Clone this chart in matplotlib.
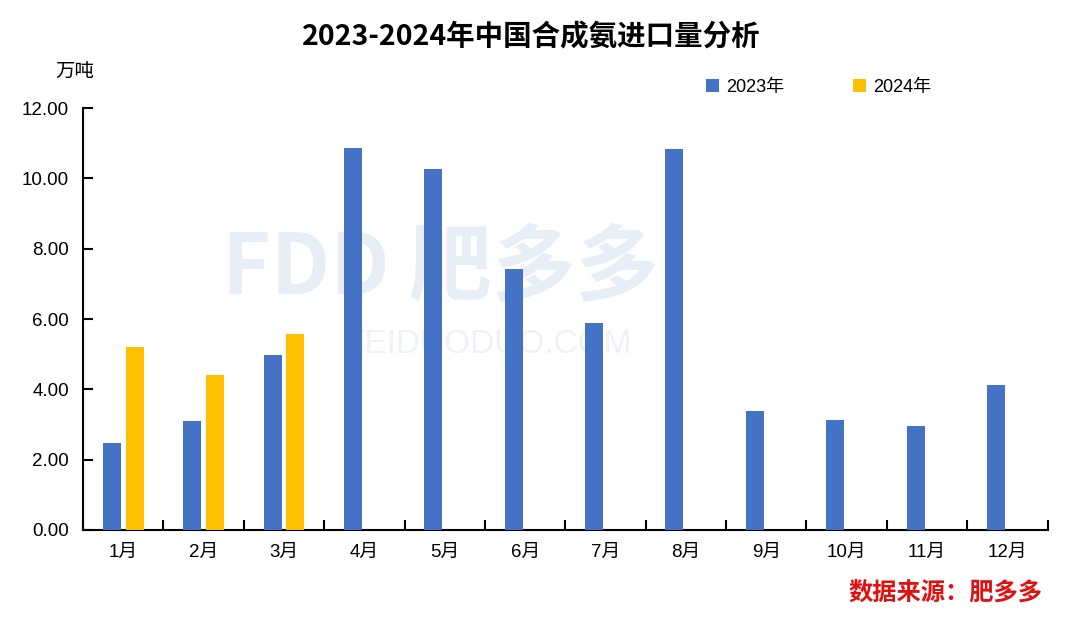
import numpy as np
import matplotlib
matplotlib.use("Agg")
import matplotlib.pyplot as plt

plt.rcParams['font.family'] = ['Liberation Sans', 'Noto Sans CJK SC', 'DejaVu Sans']

months = ['1月', '2月', '3月', '4月', '5月', '6月', '7月', '8月', '9月', '10月', '11月', '12月']
imports_2023 = [2.47, 3.10, 4.98, 10.86, 10.26, 7.42, 5.89, 10.83, 3.38, 3.13, 2.96, 4.12]
imports_2024 = [5.20, 4.41, 5.57]

fig = plt.figure(figsize=(10.8, 6.23), dpi=100)
ax = fig.add_axes([0.0769, 0.1493, 0.8931, 0.6773])

x = np.arange(len(months))
w = 0.224
ax.bar(x - 0.143, imports_2023, width=w, color='#4472C4', label='2023年', zorder=3)
ax.bar(np.arange(len(imports_2024)) + 0.143, imports_2024, width=w, color='#FFC000', label='2024年', zorder=3)

# faint watermark
ax.text(0.37, 0.62, 'FDD 肥多多', transform=ax.transAxes, fontsize=60, fontweight='bold',
        color='#e8eef6', ha='center', va='center', zorder=1, family=['Noto Sans CJK SC'])
ax.text(0.42, 0.44, 'FEIDUODUO.COM', transform=ax.transAxes, fontsize=24,
        color='#eef2f8', ha='center', va='center', zorder=1)

ax.set_xlim(-0.5, len(months) - 0.5)
ax.set_ylim(0, 12)
ax.set_yticks(np.arange(0, 12.01, 2))
ax.set_yticklabels([f'{v:.2f}' for v in np.arange(0, 12.01, 2)], fontsize=13.5)
ax.set_xticks(x)
ax.set_xticklabels(months, fontsize=13.5, family=['Liberation Sans', 'Noto Sans CJK SC'])
ax.set_xticks(np.arange(-0.5, len(months), 1), minor=True)
ax.tick_params(axis='x', which='major', length=0, pad=10)
ax.tick_params(axis='x', which='minor', direction='in', length=7, width=1.5)
ax.tick_params(axis='y', direction='in', length=7, width=1.5, pad=10)

for s in ['top', 'right']:
    ax.spines[s].set_visible(False)
for s in ['left', 'bottom']:
    ax.spines[s].set_linewidth(1.5)

fig.text(0.492, 0.94, '2023-2024年中国合成氨进口量分析', ha='center', va='center',
         fontsize=20.5, fontweight='bold', family=['Noto Sans CJK SC'])
fig.text(0.069, 0.885, '万吨', ha='center', va='center', fontsize=14, family=['Noto Sans CJK SC'])
fig.legend(loc='center', bbox_to_anchor=(0.758, 0.86), ncol=2, frameon=False,
           handlelength=0.7, handleheight=0.7, columnspacing=3.8,
           handletextpad=0.4, prop={'family': ['Liberation Sans', 'Noto Sans CJK SC'], 'size': 13})
fig.text(0.875, 0.047, '数据来源：肥多多', ha='center', va='center', fontsize=17.5,
         fontweight='bold', color='#e01010', family=['Noto Sans CJK SC'])

fig.savefig('out.png', dpi=100)
